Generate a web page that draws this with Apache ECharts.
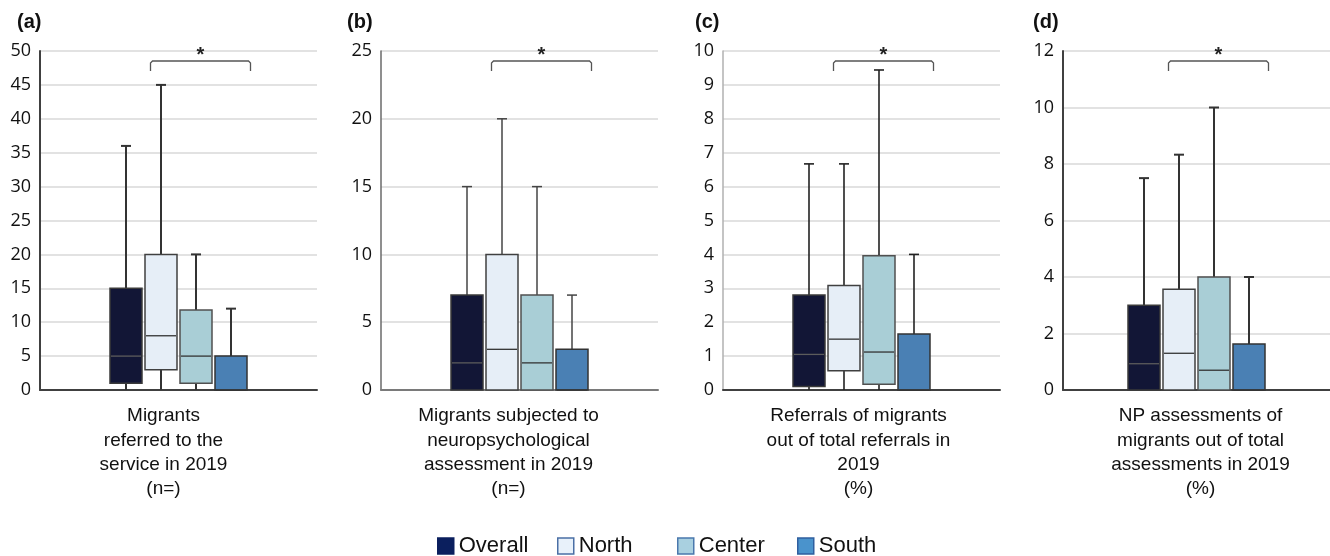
<!DOCTYPE html>
<html>
<head>
<meta charset="utf-8">
<script src="https://cdn.jsdelivr.net/npm/echarts@6/dist/echarts.min.js"></script>
<style>html,body{margin:0;padding:0;background:#fff}#c{width:1330px;height:556px}</style>
</head>
<body>
<div id="c"></div>
<script>
// ---------- DATA ----------
const regions = ['Overall', 'North', 'Center', 'South'];
const panelLabels = ['(a)', '(b)', '(c)', '(d)'];
const axisTitles = [
  'Migrants\nreferred to the\nservice in 2019\n(n=)',
  'Migrants subjected to\nneuropsychological\nassessment in 2019\n(n=)',
  'Referrals of migrants\nout of total referrals in\n2019\n(%)',
  'NP assessments of\nmigrants out of total\nassessments in 2019\n(%)'
];
const yMax = [50, 25, 10, 12];
const yInterval = [5, 5, 1, 2];
// [min, Q1, median, Q3, max] per panel (a..d)
const overall = [[0, 1, 5, 15, 36], [0, 0, 2, 7, 15], [0, 0.1, 1.05, 2.8, 6.67], [0, 0, 0.93, 3.0, 7.5]];
const north   = [[0, 3, 8, 20, 45], [0, 0, 3, 10, 20], [0, 0.57, 1.5, 3.08, 6.67], [0, 0, 1.3, 3.57, 8.33]];
const center  = [[0, 1, 5, 11.8, 20], [0, 0, 2, 7, 15], [0, 0.17, 1.12, 3.96, 9.44], [0, 0, 0.7, 4.0, 10]];
const south   = [[0, 0, 0, 5, 12], [0, 0, 0, 3, 7], [0, 0, 0, 1.65, 4], [0, 0, 0, 1.63, 4]];
const regionData = [overall, north, center, south];
const significance = ['*', '*', '*', '*'];

// ---------- LAYOUT / STYLE ----------
const gridLayout = [
  { left: 40, width: 277 }, { left: 381, width: 277 },
  { left: 723, width: 277 }, { left: 1063, width: 267 }
];
const labelLeft = [17, 347, 695, 1033];
const titleShift = [[0, 30, 0, 0], [0, 22, 0, 0], [0, 6, 0, 0], [0, 0, 0, 8]];
const yAxisLine = [['#404040', 2], ['#6a6a6a', 1.5], ['#b0b0b0', 1.5], ['#404040', 2]];
const xAxisLine = [['#404040', 2], ['#7a7a7a', 2], ['#404040', 2], ['#404040', 2]];
const whiskerStyle = [['#333', 2], ['#444', 1.5], ['#222', 1.6], ['#333', 2]];
const boxFill = ['#121636', '#e6eef7', '#a9ced6', '#4a80b4'];
const boxBorder = ['#3a3a3a', '#404040', '#505050', '#333333'];
const medianColor = ['#5c5c5c', '#333333', '#333333', '#333333'];
const legendFill = ['#0b1f5e', '#e8f1fa', '#a9d0e0', '#4a93cc'];
const legendBorder = ['#0b1f5e', '#4a6fa5', '#4a78ad', '#2f5f9f'];
const legendLeft = [437, 557, 677, 797];
const BOX_W = 32, SPACING = 35, CAP_W = 10;

function boxRenderer(k, p) {
  return function (params, api) {
    const cx = api.coord([api.value(0), 0])[0] + (k - 1.5) * SPACING;
    const py = i => api.coord([api.value(0), api.value(i)])[1];
    const yMin = py(1), yQ1 = py(2), yMed = py(3), yQ3 = py(4), yMaxP = py(5);
    const wStyle = { stroke: whiskerStyle[p][0], lineWidth: whiskerStyle[p][1] };
    return {
      type: 'group',
      children: [
        { type: 'line', shape: { x1: cx, y1: yQ1, x2: cx, y2: yMin }, style: wStyle },
        { type: 'line', shape: { x1: cx, y1: yQ3, x2: cx, y2: yMaxP }, style: wStyle },
        { type: 'line', shape: { x1: cx - CAP_W / 2, y1: yMaxP, x2: cx + CAP_W / 2, y2: yMaxP }, style: wStyle },
        { type: 'rect', shape: { x: cx - BOX_W / 2, y: yQ3, width: BOX_W, height: Math.max(yQ1 - yQ3, 0) },
          style: { fill: boxFill[k], stroke: boxBorder[k], lineWidth: 1.5 } },
        { type: 'line', shape: { x1: cx - BOX_W / 2 + 1, y1: yMed, x2: cx + BOX_W / 2 - 1, y2: yMed },
          style: { stroke: medianColor[k], lineWidth: 1.3 } }
      ]
    };
  };
}

function bracketRenderer(p) {
  return function (params, api) {
    const cx = api.coord([api.value(0), 0])[0];
    const top = params.coordSys.y;
    const x1 = cx - 28, x2 = cx + 72, yb = top + 10, yt = top + 20;
    return {
      type: 'group',
      children: [
        { type: 'polyline', shape: { points: [[x1, yt], [x1, yb + 2], [x1 + 2, yb], [x2 - 2, yb], [x2, yb + 2], [x2, yt]] },
          style: { stroke: '#555', lineWidth: 1.3, fill: null } },
        { type: 'text', x: (x1 + x2) / 2, y: top + 4,
          style: { text: significance[p], fill: '#222', font: 'bold 20px "Liberation Sans"', align: 'center', verticalAlign: 'middle' } }
      ]
    };
  };
}

const grid = [], xAxis = [], yAxis = [], series = [], title = [], legend = [];
for (let p = 0; p < 4; p++) {
  grid.push({ left: gridLayout[p].left, width: gridLayout[p].width, top: 51, height: 339 });
  xAxis.push({
    type: 'category', gridIndex: p, data: [axisTitles[p]],
    axisLine: { lineStyle: { color: xAxisLine[p][0], width: xAxisLine[p][1] } },
    axisTick: { show: false },
    axisLabel: { margin: 14, fontSize: 19, lineHeight: 24.3, color: '#111',
      fontFamily: '"Liberation Sans", Arial, sans-serif',
      padding: titleShift[p], align: 'center' }
  });
  yAxis.push({
    type: 'value', gridIndex: p, min: 0, max: yMax[p], interval: yInterval[p],
    axisLine: { show: true, lineStyle: { color: yAxisLine[p][0], width: yAxisLine[p][1] } },
    axisTick: { show: false },
    splitLine: { lineStyle: { color: '#d9d9d9', width: 1.5 } },
    axisLabel: { margin: 9, fontSize: 18, color: '#111', fontFamily: '"Open Sans", sans-serif' }
  });
  title.push({ text: panelLabels[p], left: labelLeft[p], top: 12, padding: 0,
    textStyle: { fontSize: 20, fontWeight: 'bold', color: '#111', fontFamily: '"Liberation Sans", Arial, sans-serif' } });
  for (let k = 0; k < 4; k++) {
    series.push({
      type: 'custom', name: regions[k], xAxisIndex: p, yAxisIndex: p,
      renderItem: boxRenderer(k, p), itemStyle: { color: legendFill[k] },
      encode: { x: 0, y: [1, 2, 3, 4, 5] },
      data: [[0].concat(regionData[k][p])], silent: true
    });
  }
  series.push({
    type: 'custom', name: 'sig' + p, xAxisIndex: p, yAxisIndex: p,
    renderItem: bracketRenderer(p), encode: { x: 0, y: 1 }, data: [[0, 0]], silent: true
  });
}
for (let k = 0; k < 4; k++) {
  legend.push({
    left: legendLeft[k], top: 534, padding: 0, itemWidth: 16, itemHeight: 16, selectedMode: false,
    data: [{ name: regions[k], icon: 'rect',
      itemStyle: { color: legendFill[k], borderColor: legendBorder[k], borderWidth: 1.5 } }],
    textStyle: { fontSize: 22, lineHeight: 24, color: '#111', fontFamily: '"Liberation Sans", Arial, sans-serif' }
  });
}

const chart = echarts.init(document.getElementById('c'), null, { renderer: 'canvas' });
chart.setOption({ animation: false, backgroundColor: '#fff', title, grid, xAxis, yAxis, legend, series });
</script>
</body>
</html>
